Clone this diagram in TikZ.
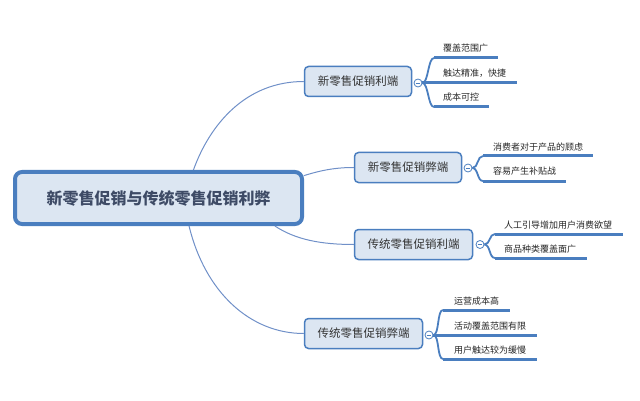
\documentclass[tikz,border=0pt]{standalone}
\usepackage{fontspec}
\setmainfont{Liberation Sans}
\newfontfamily\cjk{Noto Sans CJK SC}
\usetikzlibrary{calc}
\definecolor{mainblue}{HTML}{4A7EBF}
\definecolor{fillblue}{HTML}{DCE6F2}
\definecolor{connblue}{HTML}{7090C8}
\definecolor{roottext}{HTML}{3E4B66}
\definecolor{childtext}{HTML}{333333}
\tikzset{
  rootbox/.style={draw=mainblue, line width=4pt, fill=fillblue, rounded corners=7pt,
    minimum width=287pt, minimum height=52pt, inner sep=0pt,
    font=\cjk\bfseries\fontsize{16}{18}\selectfont, text=roottext},
  childbox/.style={draw=mainblue, line width=1.5pt, fill=fillblue, rounded corners=4pt,
    minimum height=30pt, inner sep=0pt,
    font=\cjk\fontsize{11.5}{13}\selectfont, text=childtext},
  leaftext/.style={anchor=base west, inner sep=0pt, font=\cjk\fontsize{9}{11}\selectfont, text=black!85},
  knob/.style={circle, draw=mainblue, fill=white, line width=0.8pt, minimum size=8pt, inner sep=0pt},
  conn/.style={draw=connblue, line width=1pt},
  bracket/.style={draw=mainblue, line width=1.8pt},
  leafline/.style={draw=mainblue, line width=3pt},
}
\begin{document}
\begin{tikzpicture}[x=1pt,y=-1pt]
\useasboundingbox (0,0) rectangle (640,401);

% root
\node[rootbox] (root) at (158.5,198) {新零售促销与传统零售促销利弊};

% children
\node[childbox, minimum width=107pt] (n1) at (358,81.5) {新零售促销利端};
\node[childbox, minimum width=107pt] (n2) at (408,167.5) {新零售促销弊端};
\node[childbox, minimum width=118pt] (n3) at (413.5,244.5) {传统零售促销利端};
\node[childbox, minimum width=118pt] (n4) at (363.5,333.5) {传统零售促销弊端};

% root connectors
\coordinate (r1) at ($(root.north west)!0.62!(root.north east)$);
\coordinate (r4) at ($(root.south west)!0.605!(root.south east)$);
\coordinate (r3) at ($(root.south west)!0.90!(root.south east)$);
\coordinate (r2) at ($(root.north east)!0.1!(root.south east)$);
\draw[conn] (r1) .. controls (210,124) and (246,81.5) .. (n1.west);
\draw[conn] (r2) .. controls (322,170) and (336,167.5) .. (n2.west);
\draw[conn] (r3) .. controls (296,240) and (322,244.5) .. (n3.west);
\draw[conn] (r4) .. controls (205,292) and (250,333.5) .. (n4.west);

% knobs
\node[knob] (k1) at (418,83) {};
\node[knob] (k2) at (468,168) {};
\node[knob] (k3) at (480,244.5) {};
\node[knob] (k4) at (429,335) {};
\foreach \k in {k1,k2,k3,k4} {
  \draw[mainblue, line width=0.7pt] ($(\k.center)+(-2.3,0)$) -- ($(\k.center)+(2.3,0)$);
}

% leaf lines, node 1
\coordinate (a1s) at (434,58);  \coordinate (a1e) at (498,58);
\coordinate (a2e) at (517,83);
\coordinate (a3s) at (434,107); \coordinate (a3e) at (489,107);
\draw[bracket] (k1.east) .. controls +(6,0) and +(-6,0) .. (a1s);
\draw[bracket] (k1.east) .. controls +(6,0) and +(-6,0) .. (a3s);
\draw[leafline] (a1s) -- (a1e);
\draw[leafline] (k1.east) -- (a2e);
\draw[leafline] (a3s) -- (a3e);
\node[leaftext] (t1) at (443,52) {覆盖范围广};
\node[leaftext] (t2) at (443,77) {触达精准，快捷};
\node[leaftext] (t3) at (443,101) {成本可控};

% node 2
\coordinate (b1s) at (483,156); \coordinate (b1e) at (593,156);
\coordinate (b2s) at (483,181); \coordinate (b2e) at (566,181);
\draw[bracket] (k2.east) .. controls +(6,0) and +(-6,0) .. (b1s);
\draw[bracket] (k2.east) .. controls +(6,0) and +(-6,0) .. (b2s);
\draw[leafline] (b1s) -- (b1e);
\draw[leafline] (b2s) -- (b2e);
\node[leaftext] (t4) at (493,150) {消费者对于产品的顾虑};
\node[leaftext] (t5) at (493,175) {容易产生补贴战};

% node 3
\coordinate (c1s) at (495,234); \coordinate (c1e) at (623,234);
\coordinate (c2s) at (495,258); \coordinate (c2e) at (587,258);
\draw[bracket] (k3.east) .. controls +(6,0) and +(-6,0) .. (c1s);
\draw[bracket] (k3.east) .. controls +(6,0) and +(-6,0) .. (c2s);
\draw[leafline] (c1s) -- (c1e);
\draw[leafline] (c2s) -- (c2e);
\node[leaftext] (t6) at (504,228) {人工引导增加用户消费欲望};
\node[leaftext] (t7) at (504,252) {商品种类覆盖面广};

% node 4
\coordinate (d1s) at (443,310); \coordinate (d1e) at (510,310);
\coordinate (d2e) at (537,335);
\coordinate (d3s) at (443,359); \coordinate (d3e) at (537,359);
\draw[bracket] (k4.east) .. controls +(6,0) and +(-6,0) .. (d1s);
\draw[bracket] (k4.east) .. controls +(6,0) and +(-6,0) .. (d3s);
\draw[leafline] (d1s) -- (d1e);
\draw[leafline] (k4.east) -- (d2e);
\draw[leafline] (d3s) -- (d3e);
\node[leaftext] (t8) at (454,304) {运营成本高};
\node[leaftext] (t9) at (454,329) {活动覆盖范围有限};
\node[leaftext] (t10) at (454,353) {用户触达较为缓慢};
\end{tikzpicture}
\end{document}
